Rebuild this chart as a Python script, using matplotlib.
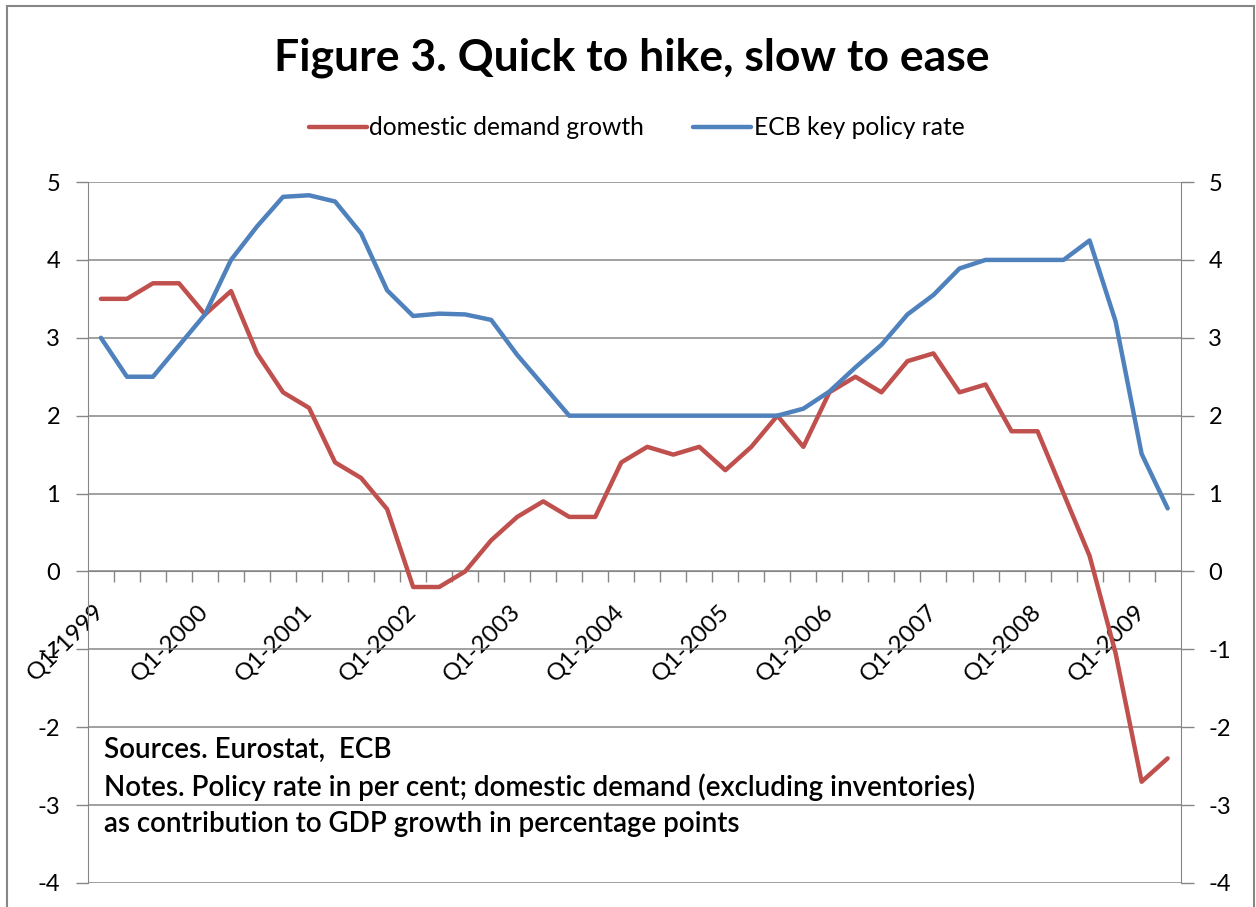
"""Figure 3: domestic demand growth vs ECB key policy rate, 1999-2009."""

import matplotlib.pyplot as plt
from matplotlib.patches import Rectangle

plt.rcParams['font.family'] = ['Lato', 'DejaVu Sans']
plt.rcParams['axes.unicode_minus'] = False

# quarterly data, Q1-1999 .. Q2-2009
years = list(range(1999, 2010))
quarters = [f"Q{q}-{y}" for y in years for q in range(1, 5)][:42]

demand_growth = [3.5, 3.5, 3.7, 3.7, 3.3, 3.6, 2.8, 2.3, 2.1, 1.4,
                 1.2, 0.8, -0.2, -0.2, 0.0, 0.4, 0.7, 0.9, 0.7, 0.7,
                 1.4, 1.6, 1.5, 1.6, 1.3, 1.6, 2.0, 1.6, 2.3, 2.5,
                 2.3, 2.7, 2.8, 2.3, 2.4, 1.8, 1.8, 1.0, 0.2, -1.05,
                 -2.7, -2.4]
policy_rate = [3.0, 2.5, 2.5, 2.9, 3.3, 4.0, 4.43, 4.81, 4.83, 4.75,
               4.34, 3.61, 3.28, 3.31, 3.30, 3.23, 2.78, 2.39, 2.0, 2.0,
               2.0, 2.0, 2.0, 2.0, 2.0, 2.0, 2.0, 2.09, 2.31, 2.62,
               2.91, 3.30, 3.55, 3.89, 4.0, 4.0, 4.0, 4.0, 4.25, 3.21,
               1.51, 0.81]

y_ticks = list(range(-4, 6))

RED = '#C0504D'
BLUE = '#4F81BD'
GRID = '#868686'

fig = plt.figure(figsize=(12.56, 9.07), dpi=100)
ax = fig.add_axes([0.070, 0.0265, 0.870, 0.7728])
ax2 = ax.twinx()

x = list(range(len(quarters)))
ax.plot(x, demand_growth, color=RED, lw=3.2, label='domestic demand growth',
        solid_joinstyle='round', solid_capstyle='round', zorder=3)
ax2.plot(x, policy_rate, color=BLUE, lw=3.2, label='ECB key policy rate',
         solid_joinstyle='round', solid_capstyle='round', zorder=3)

for a in (ax, ax2):
    a.set_ylim(-4, 5)
    a.set_yticks(y_ticks)
    a.set_xlim(-0.5, len(quarters) - 0.5)
    a.tick_params(axis='y', length=9, width=1, color=GRID, labelsize=17, pad=11)
    for s in a.spines.values():
        s.set_color(GRID)
    a.spines['top'].set_visible(False)

ax.yaxis.grid(True, color=GRID, lw=1.1)
ax.set_axisbelow(True)
ax.spines['right'].set_visible(False)
ax2.spines['left'].set_visible(False)
ax2.spines['bottom'].set_visible(False)

# category axis crosses at zero
ax.spines['bottom'].set_position(('data', 0))
ax.set_xticks(x[::4])
ax.set_xticklabels(quarters[::4], rotation=45, ha='right', va='center',
                   rotation_mode='anchor', fontsize=17.5)
ax.set_xticks([i - 0.5 for i in x[1:]], minor=True)
ax.tick_params(axis='x', which='major', length=0, pad=26)
ax.tick_params(axis='x', which='minor', length=8, width=1, color=GRID)

fig.text(0.503, 0.936, "Figure 3. Quick to hike, slow to ease",
         ha='center', va='center', fontsize=32, fontweight='bold')

handles = ax.get_lines() + ax2.get_lines()
fig.legend(handles, [h.get_label() for h in handles], loc='center',
           bbox_to_anchor=(0.507, 0.859), ncol=2, frameon=False,
           fontsize=17.7, handlelength=2.35, columnspacing=2.0,
           handletextpad=0.1)

notes = ("Sources. Eurostat,  ECB\n"
         "Notes. Policy rate in per cent; domestic demand (excluding inventories)\n"
         "as contribution to GDP growth in percentage points")
ax.text(0.12, -2.13, notes, ha='left', va='top', fontsize=20,
        fontweight='semibold', linespacing=1.45, transform=ax.transData)

fig.patches.append(Rectangle((0.0056, -0.01), 0.993, 1.0034, transform=fig.transFigure,
                             fill=False, edgecolor=GRID, lw=1.5))

fig.savefig('out.png', dpi=100)
